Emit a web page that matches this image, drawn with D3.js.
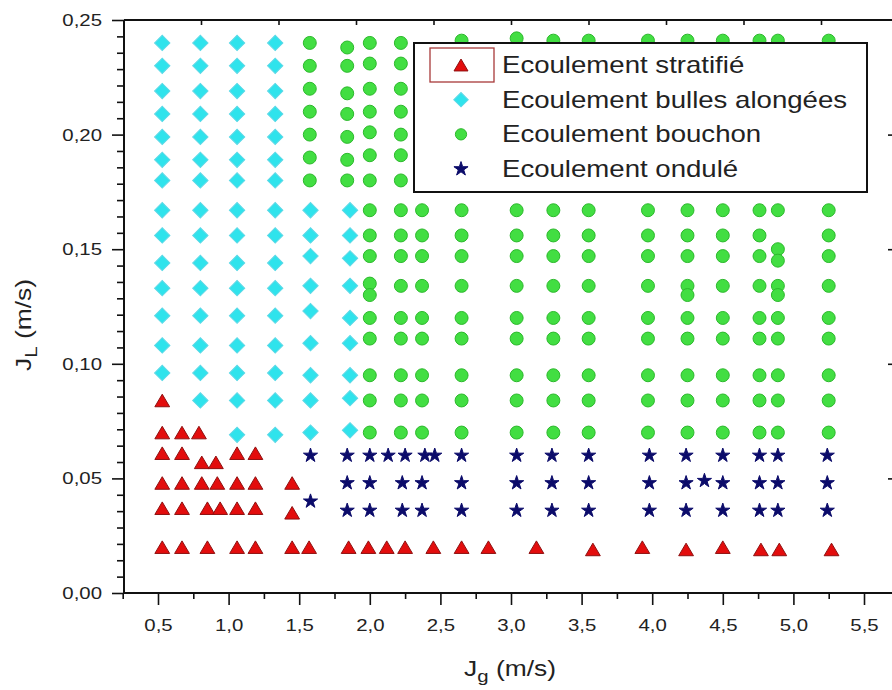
<!DOCTYPE html>
<html>
<head>
<meta charset="utf-8">
<script src="https://cdnjs.cloudflare.com/ajax/libs/d3/7.8.5/d3.min.js"></script>
<style>
  body { margin: 0; background: #fff; }
  svg { display: block; }
  text { font-family: Arial, "Liberation Sans", sans-serif; fill: #222; }
</style>
</head>
<body>
<svg id="chart" width="892" height="690"></svg>
<script>
// flow regime map, Jg (x) vs JL (y)

var seriesNames = ["Ecoulement stratifié", "Ecoulement bulles alongées", "Ecoulement bouchon", "Ecoulement ondulé"]

// stratified flow: [Jg, JL]
var stratified = [
  [0.53, 0.084],
  [0.53, 0.070], [0.67, 0.070], [0.79, 0.070],
  [0.53, 0.061], [0.67, 0.061], [1.06, 0.061], [1.19, 0.061],
  [0.81, 0.057], [0.91, 0.057],
  [0.53, 0.048], [0.67, 0.048], [0.81, 0.048], [0.92, 0.048], [1.06, 0.048], [1.19, 0.048], [1.45, 0.048],
  [0.53, 0.037], [0.67, 0.037], [0.85, 0.037], [0.94, 0.037], [1.06, 0.037], [1.19, 0.037], [1.45, 0.035],
  [0.53, 0.020], [0.67, 0.020], [0.85, 0.020], [1.06, 0.020], [1.19, 0.020], [1.45, 0.020], [1.57, 0.020],
  [1.85, 0.020], [1.99, 0.020], [2.12, 0.020], [2.25, 0.020], [2.45, 0.020], [2.65, 0.020], [2.84, 0.020],
  [3.18, 0.020], [3.58, 0.019], [3.93, 0.020], [4.24, 0.019], [4.50, 0.020], [4.77, 0.019], [4.90, 0.019],
  [5.27, 0.019]
]

// elongated bubbles: one Jg per column, list of JL in each column
var bubbleJg = [0.53, 0.80, 1.06, 1.33, 1.58, 1.86]
var bubbleJl = [
  [0.240, 0.230, 0.219, 0.209, 0.199, 0.189, 0.180, 0.167, 0.156, 0.144, 0.133, 0.121, 0.108, 0.096],
  [0.240, 0.230, 0.219, 0.209, 0.199, 0.189, 0.180, 0.167, 0.156, 0.144, 0.133, 0.121, 0.108, 0.096, 0.084],
  [0.240, 0.230, 0.219, 0.209, 0.199, 0.189, 0.180, 0.167, 0.156, 0.144, 0.133, 0.121, 0.108, 0.096, 0.084, 0.069],
  [0.240, 0.230, 0.219, 0.209, 0.199, 0.189, 0.180, 0.167, 0.156, 0.144, 0.133, 0.121, 0.108, 0.096, 0.084, 0.069],
  [0.167, 0.156, 0.147, 0.134, 0.123, 0.109, 0.095, 0.084, 0.070],
  [0.167, 0.156, 0.146, 0.134, 0.120, 0.109, 0.095, 0.085, 0.071]
]

// slug flow (bouchon)
var slugJg = [1.575, 1.84, 2.00, 2.22, 2.37, 2.65, 3.04, 3.30, 3.55, 3.97, 4.25, 4.50, 4.76, 4.89, 5.25]
var slugJl = [
  [0.240, 0.230, 0.220, 0.210, 0.200, 0.190, 0.180],
  [0.238, 0.230, 0.218, 0.209, 0.199, 0.189, 0.180],
  [0.240, 0.231, 0.220, 0.210, 0.201, 0.191, 0.180, 0.167, 0.156, 0.147, 0.135, 0.130, 0.120, 0.111, 0.095, 0.084, 0.070],
  [0.240, 0.231, 0.220, 0.210, 0.200, 0.191, 0.180, 0.167, 0.156, 0.147, 0.134, 0.120, 0.111, 0.095, 0.084, 0.070],
  [0.167, 0.156, 0.147, 0.134, 0.120, 0.111, 0.095, 0.084, 0.070],
  [0.241, 0.167, 0.156, 0.147, 0.134, 0.120, 0.111, 0.095, 0.084, 0.070],
  [0.242, 0.167, 0.156, 0.147, 0.134, 0.120, 0.111, 0.095, 0.084, 0.070],
  [0.241, 0.167, 0.156, 0.147, 0.134, 0.120, 0.111, 0.095, 0.084, 0.070],
  [0.241, 0.167, 0.156, 0.147, 0.134, 0.120, 0.111, 0.095, 0.084, 0.070],
  [0.241, 0.167, 0.156, 0.147, 0.134, 0.120, 0.111, 0.095, 0.084, 0.070],
  [0.241, 0.167, 0.156, 0.147, 0.134, 0.130, 0.120, 0.111, 0.095, 0.084, 0.070],
  [0.241, 0.167, 0.156, 0.147, 0.134, 0.120, 0.111, 0.095, 0.084, 0.070],
  [0.241, 0.167, 0.156, 0.147, 0.134, 0.120, 0.111, 0.095, 0.084, 0.070],
  [0.241, 0.167, 0.150, 0.145, 0.134, 0.130, 0.120, 0.111, 0.095, 0.084, 0.070],
  [0.241, 0.167, 0.156, 0.147, 0.134, 0.120, 0.111, 0.095, 0.084, 0.070]
]

// wavy flow (ondulé): [Jg, JL]
var wavy = [
  [1.58, 0.060], [1.84, 0.060], [2.00, 0.060], [2.13, 0.060], [2.25, 0.060], [2.39, 0.060], [2.46, 0.060],
  [2.65, 0.060], [3.04, 0.060], [3.29, 0.060], [3.55, 0.060], [3.98, 0.060], [4.24, 0.060], [4.50, 0.060],
  [4.76, 0.060], [4.89, 0.060], [5.24, 0.060],
  [1.84, 0.048], [2.00, 0.048], [2.23, 0.048], [2.37, 0.048], [2.65, 0.048], [3.04, 0.048], [3.29, 0.048],
  [3.55, 0.048], [3.98, 0.048], [4.24, 0.048], [4.37, 0.049], [4.50, 0.048], [4.76, 0.048], [4.89, 0.048],
  [5.24, 0.048],
  [1.84, 0.036], [2.00, 0.036], [2.23, 0.036], [2.37, 0.036], [2.65, 0.036], [3.04, 0.036], [3.29, 0.036],
  [3.55, 0.036], [3.98, 0.036], [4.24, 0.036], [4.50, 0.036], [4.76, 0.036], [4.89, 0.036], [5.24, 0.036],
  [1.58, 0.040]
]

var xTicks = [0.5, 1.0, 1.5, 2.0, 2.5, 3.0, 3.5, 4.0, 4.5, 5.0, 5.5]
var xMinor = [0.25, 0.75, 1.25, 1.75, 2.25, 2.75, 3.25, 3.75, 4.25, 4.75, 5.25, 5.75]
var yTicks = [0, 0.05, 0.10, 0.15, 0.20, 0.25]

var svg = d3.select("#chart")
var plotL = 124, plotR = 895, plotT = 20, plotB = 593
var stretch = 1.2   // text in the picture is wider than plain Arial

var x = d3.scaleLinear().domain([0.5, 5.5]).range([158, 864])
var y = d3.scaleLinear().domain([0, 0.25]).range([plotB, plotT])
// the top frame has its own evenly spaced ticks
var xTop = d3.scaleLinear().domain([0.5, 4.5]).range([201, 821])

function cols(jg, jl) {
  var pts = []
  jg.forEach(function(g, i) { jl[i].forEach(function(l) { pts.push([g, l]) }) })
  return pts
}
var bubbles = cols(bubbleJg, bubbleJl)
var slugs = cols(slugJg, slugJl)

// triangle centred on its bounding box
var triUp = {
  draw: function(ctx, size) {
    var w = Math.sqrt(size * 1.15)
    var h = w * 0.85
    ctx.moveTo(0, -h / 2)
    ctx.lineTo(w / 2, h / 2)
    ctx.lineTo(-w / 2, h / 2)
    ctx.closePath()
  }
}

var minor = [] // JL minor ticks, six between labelled ones
yTicks.slice(0, -1).forEach(function(t) {
  for (var k = 1; k < 7; k++) minor.push(t + 0.05 * k / 7)
})

// ---- frame
var axisCol = "#111"
var frame = [[plotL, plotB, plotR, plotB], [plotL, plotT, plotR, plotT], [plotL, plotT, plotL, plotB], [plotR, plotT, plotR, plotB]]
svg.append("g").selectAll("line").data(frame).enter().append("line")
  .attr("x1", function(d) { return d[0] }).attr("y1", function(d) { return d[1] })
  .attr("x2", function(d) { return d[2] }).attr("y2", function(d) { return d[3] })
  .attr("stroke", axisCol).attr("stroke-width", 2)

// bottom axis
var fmt = function(n) { return function(d) { return d.toFixed(n).replace(".", ",") } }
var gx = svg.append("g").attr("transform", "translate(0," + plotB + ")")
  .call(d3.axisBottom(x).tickValues(xTicks).tickSize(12).tickPadding(14).tickFormat(fmt(1)))
gx.append("g").call(d3.axisBottom(x).tickValues(xMinor).tickSize(6).tickFormat(""))
gx.selectAll(".domain").remove()

// left axis
var gy = svg.append("g").attr("transform", "translate(" + plotL + ",0)")
  .call(d3.axisLeft(y).tickValues(yTicks).tickSize(12).tickPadding(10).tickFormat(fmt(2)))
gy.append("g").call(d3.axisLeft(y).tickValues(minor).tickSize(7).tickFormat(""))
gy.selectAll(".domain").remove()

// top and right: inward ticks, no labels
var gt = svg.append("g").attr("transform", "translate(0," + plotT + ")")
  .call(d3.axisTop(xTop).tickValues(d3.range(0.5, 4.51, 0.5)).tickSize(-5).tickFormat(""))
gt.selectAll(".domain").remove()
var gr = svg.append("g").attr("transform", "translate(" + plotR + ",0)")
  .call(d3.axisRight(y).tickValues(yTicks.slice(1, -1)).tickSize(-7).tickFormat(""))
gr.selectAll(".domain").remove()

svg.selectAll(".tick line").attr("stroke", axisCol).attr("stroke-width", 1.6)
svg.selectAll(".tick text").attr("font-size", 17).attr("fill", "#222")
  .attr("font-family", "Arial, 'Liberation Sans', sans-serif")
gx.selectAll(".tick text").attr("transform", "scale(" + stretch + ",1)")
gy.selectAll(".tick text").attr("x", -22 / stretch).attr("transform", "scale(" + stretch + ",1)")

// axis titles
var tx = svg.append("text").attr("transform", "translate(510,676) scale(" + stretch + ",1)")
  .attr("text-anchor", "middle").attr("font-size", 22)
tx.append("tspan").text("J")
tx.append("tspan").attr("font-size", 17).attr("dy", 6).text("g")
tx.append("tspan").attr("dy", -6).text(" (m/s)")

var ty = svg.append("text").attr("transform", "translate(31,325) rotate(-90) scale(" + stretch + ",1)")
  .attr("text-anchor", "middle").attr("font-size", 22)
ty.append("tspan").text("J")
ty.append("tspan").attr("font-size", 17).attr("dy", 6).text("L")
ty.append("tspan").attr("dy", -6).text(" (m/s)")

// ---- marks
var styles = [
  { data: stratified, type: triUp, size: 190, fill: "#e30d0d", stroke: "#8e1010", rot: 0 },
  { data: bubbles, type: d3.symbolSquare, size: 118, fill: "#2fe3ec", stroke: "#5fd8e6", rot: 45 },
  { data: slugs, type: d3.symbolCircle, size: 132, fill: "#42de42", stroke: "#2cb82c", rot: 0 },
  { data: wavy, type: d3.symbolStar, size: 62, fill: "#0b0b6a", stroke: "#0b0b6a", rot: 0 }
]

styles.forEach(function(s) {
  svg.append("g").selectAll("path").data(s.data).enter().append("path")
    .attr("d", d3.symbol().type(s.type).size(s.size))
    .attr("transform", function(d) {
      return "translate(" + x(d[0]) + "," + y(d[1]) + ") rotate(" + s.rot + ")"
    })
    .attr("fill", s.fill).attr("stroke", s.stroke).attr("stroke-width", 1)
})

// ---- legend
var leg = svg.append("g")
leg.append("rect").attr("x", 414).attr("y", 43).attr("width", 453).attr("height", 149)
  .attr("fill", "#fff").attr("stroke", "#111").attr("stroke-width", 2)
leg.append("rect").attr("x", 430).attr("y", 48).attr("width", 64).attr("height", 34)
  .attr("fill", "none").attr("stroke", "#a83a3a").attr("stroke-width", 1.3)

var legSizes = [170, 105, 100, 62]
var rowBase = d3.scalePoint().domain(seriesNames).range([73, 177])
seriesNames.forEach(function(name, i) {
  var s = styles[i]
  var b = rowBase(name)
  leg.append("path").attr("d", d3.symbol().type(s.type).size(legSizes[i]))
    .attr("transform", "translate(461," + (b - 8) + ") rotate(" + s.rot + ")")
    .attr("fill", s.fill).attr("stroke", s.stroke).attr("stroke-width", 1)
  leg.append("text").attr("transform", "translate(502," + b + ") scale(" + stretch + ",1)")
    .attr("font-size", 23).attr("fill", "#222").text(name)
})
</script>
</body>
</html>
